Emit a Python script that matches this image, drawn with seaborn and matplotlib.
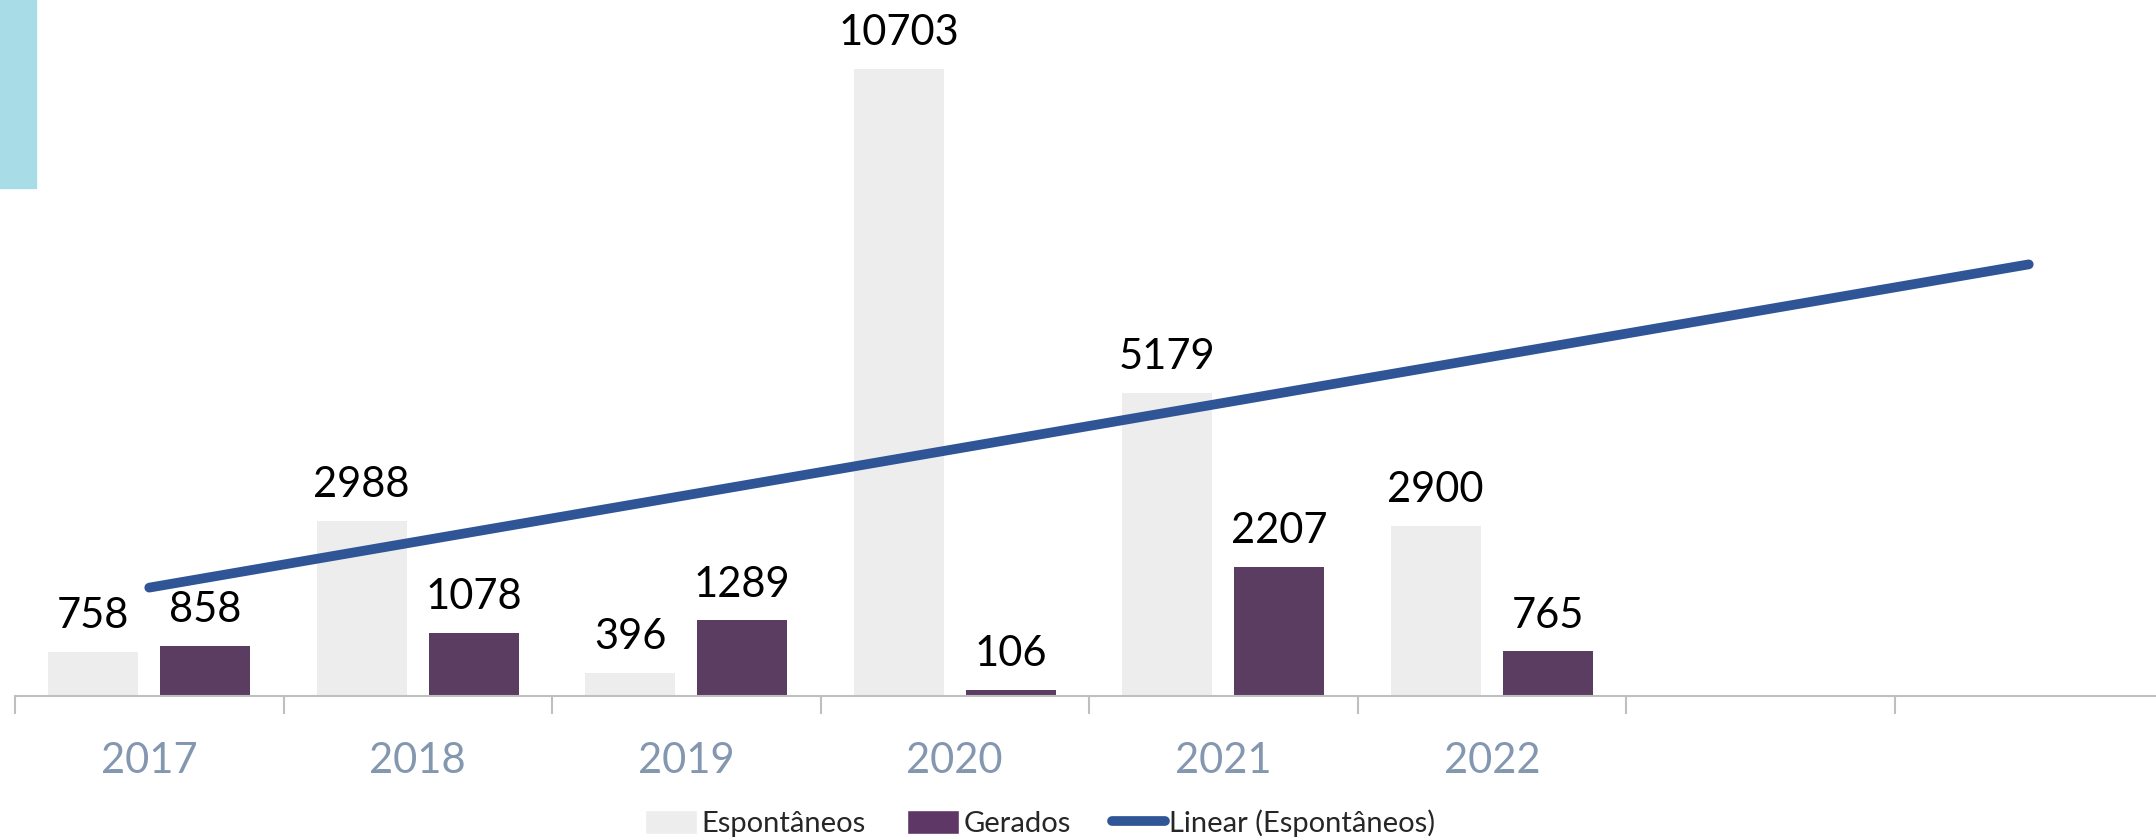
import numpy as np
import pandas as pd
import matplotlib.pyplot as plt
import seaborn as sns
from matplotlib.patches import Patch, Rectangle
from matplotlib.lines import Line2D

# data
years = ['2017', '2018', '2019', '2020', '2021', '2022']
espontaneos = [758, 2988, 396, 10703, 5179, 2900]
gerados = [858, 1078, 1289, 106, 2207, 765]
# two empty category slots after 2022 (trend forecast runs into them)
slots = years + ['a', 'b']

df = pd.DataFrame({
    'ano': years * 2,
    'valor': espontaneos + gerados,
    'tipo': ['Espontâneos'] * len(years) + ['Gerados'] * len(years),
})
palette = {'Espontâneos': '#EDEDED', 'Gerados': '#5E3767'}

sns.set_style('white')
plt.rcParams['font.family'] = ['Lato', 'DejaVu Sans']

W, H = 2156, 839
base = 696  # pixel row of the category axis
fig = plt.figure(figsize=(W / 100, H / 100), dpi=100)
ax = fig.add_axes([15 / W, (H - base) / H, 2148 / W, base / H])

sns.barplot(data=df, x='ano', y='valor', hue='tipo', order=slots,
            palette=palette, width=0.835, gap=0.2, linewidth=0,
            legend=False, ax=ax)

# value labels
for cont in ax.containers:
    ax.bar_label(cont, fmt='%d', padding=12, fontsize=30, color='black')

# linear trend of Espontâneos, forecast 2 periods forward
x = np.arange(len(years))
slope, icpt = np.polyfit(x, espontaneos, 1)
trend = pd.DataFrame({'x': [0, len(slots) - 1]})
trend['y'] = icpt + slope * trend['x']
sns.lineplot(data=trend, x='x', y='y', color='#2F5597', linewidth=7,
             solid_capstyle='round', ax=ax)

ax.set_xlim(-0.5, len(slots) - 0.5)
ax.set_ylim(0, 10703 * base / (base - 69))

# axis styling
for s in ['top', 'left', 'right']:
    ax.spines[s].set_visible(False)
ax.spines['bottom'].set_color('#BFBFBF')
ax.spines['bottom'].set_linewidth(1.5)
ax.set_yticks([])
ax.set_xlabel('')
ax.set_ylabel('')
ax.set_xticks(np.arange(len(slots) + 1) - 0.5)
ax.set_xticklabels([])
ax.tick_params(axis='x', which='major', bottom=True, length=13, width=1.5,
               color='#BFBFBF', direction='out')
ax.set_xticks(np.arange(len(years)), minor=True)
ax.set_xticklabels(years, minor=True)
ax.tick_params(axis='x', which='minor', bottom=True, length=0, pad=33,
               labelsize=30, labelcolor='#8497B0')

# decorative block top-left
fig.patches.append(Rectangle((0, 1 - 188 / H), 36 / W, 188 / H,
                             transform=fig.transFigure, color='#A8DDE8', zorder=0))

handles = [
    Patch(facecolor='#EDEDED', label='Espontâneos'),
    Patch(facecolor='#5E3767', label='Gerados'),
    Line2D([0], [0], color='#2F5597', linewidth=7, solid_capstyle='round',
           label='Linear (Espontâneos)'),
]
fig.legend(handles=handles, loc='center', bbox_to_anchor=(1040 / W, 1 - 823 / H),
           ncol=3, frameon=False, fontsize=21, handlelength=1.8, handleheight=0.9,
           handletextpad=0.15, columnspacing=1.4)

fig.savefig('out.png', dpi=100)
